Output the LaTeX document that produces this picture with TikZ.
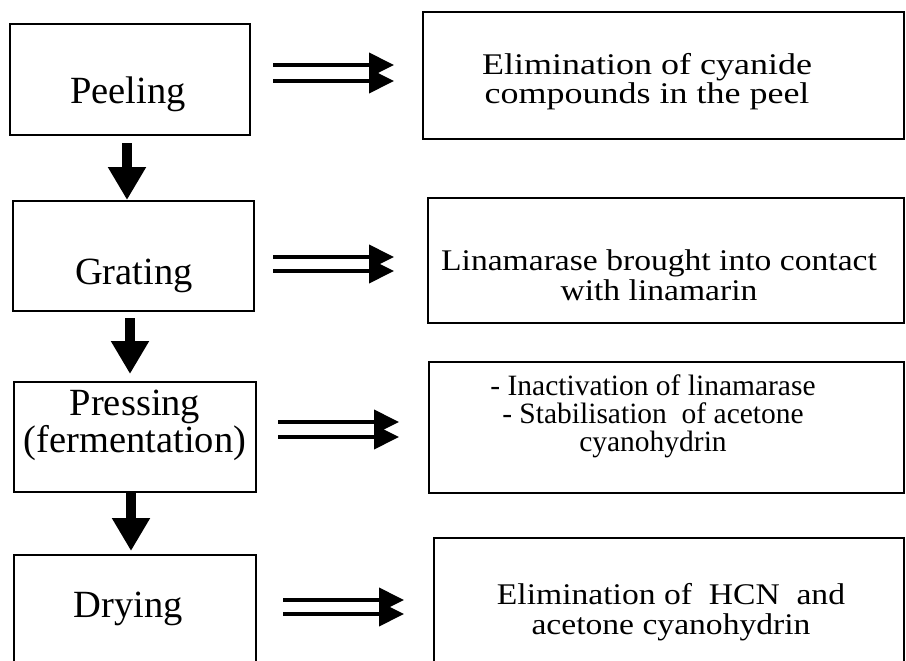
\documentclass[tikz,border=0pt]{standalone}
\usepackage{fontspec}
\setmainfont{Liberation Serif}
\newfontfamily\wideserif{Liberation Serif}[FakeStretch=1.12]
\newfontfamily\widerserif{Liberation Serif}[FakeStretch=1.2]
\usetikzlibrary{arrows.meta,calc}
\tikzset{
  stepbox/.style={draw, line width=2pt, inner sep=0pt},
  lefttext/.style={inner sep=0pt, align=center, font=\fontsize{38.5}{31}\selectfont},
  righttext/.style={inner sep=0pt, align=center, font=\wideserif\fontsize{30}{29.5}\selectfont},
  widetext/.style={inner sep=0pt, align=center, font=\widerserif\fontsize{30}{30}\selectfont},
  narrowtext/.style={inner sep=0pt, align=center, font=\fontsize{29.5}{28}\selectfont},
  dbl/.style={line width=4pt, -{Triangle[length=25pt, width=24pt]}},
  down/.style={line width=10pt, -{Triangle[length=33pt, width=36pt]}},
}
\begin{document}
\begin{tikzpicture}[x=1pt, y=-1pt]
\useasboundingbox (0,0) rectangle (906,661);
\clip (0,0) rectangle (906,661);

% process steps (left column)
\node[stepbox, minimum width=240, minimum height=111] (peel)  at (130,79.5) {};
\node[stepbox, minimum width=241, minimum height=110] (grat)  at (133.5,256) {};
\node[stepbox, minimum width=242, minimum height=110] (press) at (135,437) {};
\node[stepbox, minimum width=242, minimum height=145] (dry)   at (135,627.5) {};

% effects (right column)
\node[stepbox, minimum width=481, minimum height=127] (r1) at (663.5,75.5) {};
\node[stepbox, minimum width=476, minimum height=125] (r2) at (666,260.5) {};
\node[stepbox, minimum width=475, minimum height=131] (r3) at (666.5,427.5) {};
\node[stepbox, minimum width=470, minimum height=162] (r4) at (669,619) {};

% labels (base anchor = baseline of the last line)
\node[lefttext, anchor=base] (peelT)  at (128,104) {Peeling};
\node[lefttext, anchor=base] (gratT)  at (134,284) {Grating};
\node[lefttext, anchor=base] (pressT) at (135,452) {Pressing\\(fermentation)};
\node[lefttext, anchor=base] (dryT)   at (128,617) {Drying};

\node[widetext, anchor=base] (r1T) at (647,104) {Elimination of cyanide\\compounds in the peel};
\node[righttext, anchor=base] (r2T) at (659,300) {Linamarase brought into contact\\with linamarin};
\node[narrowtext, anchor=base] (r3T) at (653,451) {- Inactivation of linamarase\\- Stabilisation\ \ of acetone\\cyanohydrin};
\node[righttext, anchor=base] (r4T) at (671,634) {Elimination of\ \ HCN\ \ and\\acetone cyanohydrin};

% double arrows: step -> effect
\draw[dbl] ($(peel.east)+(22,-14.5)$) -- ($(r1.west)+(-28,-10.5)$);
\draw[dbl] ($(peel.east)+(22,1.5)$)   -- ($(r1.west)+(-28,5.5)$);
\draw[dbl] ($(grat.east)+(18,1)$)     -- ($(r2.west)+(-33,-3.5)$);
\draw[dbl] ($(grat.east)+(18,15)$)    -- ($(r2.west)+(-33,10.5)$);
\draw[dbl] ($(press.east)+(21,-15)$)  -- ($(r3.west)+(-29,-5.5)$);
\draw[dbl] ($(press.east)+(21,0)$)    -- ($(r3.west)+(-29,9.5)$);
\draw[dbl] ($(dry.east)+(26,-27.5)$)  -- ($(r4.west)+(-29,-19)$);
\draw[dbl] ($(dry.east)+(26,-13.5)$)  -- ($(r4.west)+(-29,-5)$);

% flow between steps
\draw[down] ($(peel.south)+(-3,7)$)  -- ($(grat.north)+(-6.5,0)$);
\draw[down] ($(grat.south)+(-3.5,6)$) -- ($(press.north)+(-5,-7)$);
\draw[down] ($(press.south)+(-4,0)$) -- ($(dry.north)+(-4,-3)$);
\end{tikzpicture}
\end{document}
